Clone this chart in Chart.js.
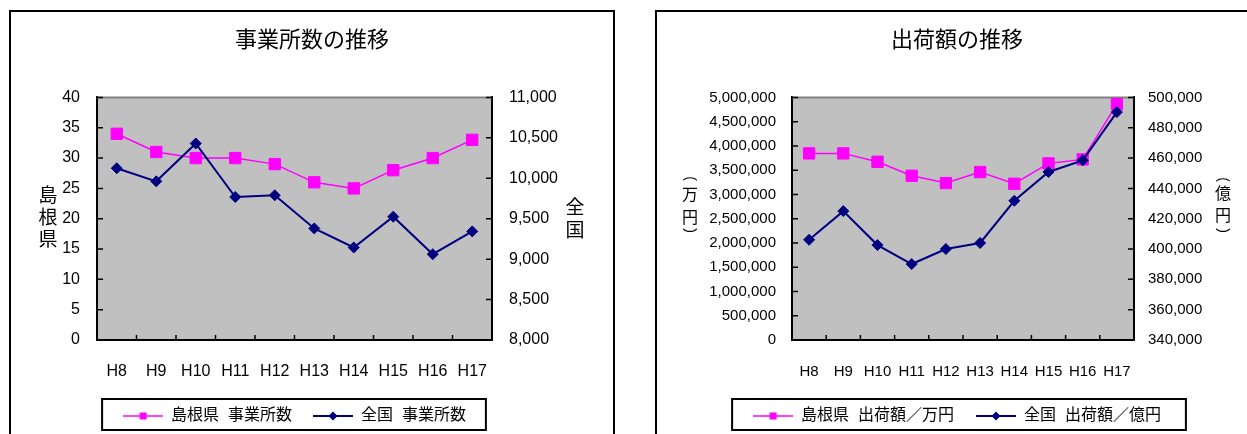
<!DOCTYPE html>
<html>
<head>
<meta charset="utf-8">
<script src="https://cdn.jsdelivr.net/npm/chart.js@4.4.1/dist/chart.umd.min.js"></script>
<style>
  body { margin: 0; background: #fff; width: 1247px; height: 434px; overflow: hidden; position: relative; }
  .box { position: absolute; border: 2px solid #000; box-sizing: border-box; background: #fff; }
  #box1 { left: 9px; top: 10px; width: 606px; height: 440px; }
  #box2 { left: 655px; top: 10px; width: 620px; height: 440px; }
  canvas { position: absolute; left: 0; top: 0; }
</style>
</head>
<body>
<div class="box" id="box1"><canvas id="chartJigyosho" width="602" height="422"></canvas></div>
<div class="box" id="box2"><canvas id="chartShukka" width="600" height="422"></canvas></div>
<script>
// データ
const years = ['H8', 'H9', 'H10', 'H11', 'H12', 'H13', 'H14', 'H15', 'H16', 'H17']
const shimaneJigyosho = [34, 31, 30, 30, 29, 26, 25, 28, 30, 33]
const zenkokuJigyosho = [10124, 9962, 10430, 9768, 9789, 9380, 9144, 9525, 9061, 9343]
const shimaneShukka = [3846000, 3846000, 3673000, 3385000, 3234000, 3461000, 3220000, 3640000, 3722000, 4862000]
const zenkokuShukka = [406100, 425000, 402600, 390100, 400000, 404000, 431800, 450800, 458500, 490300]

const FONT = "'Liberation Sans', 'Noto Sans CJK JP', sans-serif"
const MAGENTA = '#ff00ff'
const NAVY = '#000080'

const fmt = v => Number(v).toLocaleString('en-US')

// 凡例用のマーカー（線＋点）
const legendMark = (color, diamond, lw) => {
    const c = document.createElement('canvas')
    c.width = 40
    c.height = 16
    const g = c.getContext('2d')
    g.strokeStyle = color
    g.lineWidth = lw
    g.beginPath()
    g.moveTo(0, 8)
    g.lineTo(40, 8)
    g.stroke()
    g.fillStyle = color
    if (diamond) {
        g.beginPath()
        g.moveTo(20, 3.5)
        g.lineTo(24.5, 8)
        g.lineTo(20, 12.5)
        g.lineTo(15.5, 8)
        g.closePath()
        g.fill()
    } else {
        g.fillRect(16.5, 4.5, 7, 7)
    }
    return c
}

// 背景・上辺・内向き目盛り・縦書きの軸タイトル・凡例の枠
const plotFrame = {
    id: 'plotFrame',
    beforeDraw(chart) {
        const { ctx, chartArea: a } = chart
        ctx.save()
        ctx.fillStyle = '#c0c0c0'
        ctx.fillRect(a.left, a.top, a.right - a.left, a.bottom - a.top)
        ctx.restore()
    },
    beforeDatasetsDraw(chart) {
        const { ctx, chartArea: a, scales } = chart
        ctx.save()
        ctx.strokeStyle = '#808080'
        ctx.lineWidth = 2
        ctx.beginPath()
        ctx.moveTo(a.left, a.top)
        ctx.lineTo(a.right, a.top)
        ctx.stroke()
        ctx.strokeStyle = '#000'
        ctx.lineWidth = 1.5
        ctx.beginPath()
        scales.y.ticks.forEach(t => {
            const p = scales.y.getPixelForValue(t.value)
            ctx.moveTo(a.left, p)
            ctx.lineTo(a.left + 6, p)
        })
        scales.y2.ticks.forEach(t => {
            const p = scales.y2.getPixelForValue(t.value)
            ctx.moveTo(a.right, p)
            ctx.lineTo(a.right - 6, p)
        })
        for (let i = 0; i < scales.x.ticks.length - 1; i++) {
            const p = scales.x.getPixelForValue(i + 0.5)
            ctx.moveTo(p, a.bottom)
            ctx.lineTo(p, a.bottom - 5)
        }
        ctx.stroke()
        ctx.restore()
    },
    afterDraw(chart) {
        const { ctx } = chart
        const opts = chart.options.plugins.plotFrame
        const a = chart.chartArea
        const mid = (a.top + a.bottom) / 2
        ctx.save()
        ctx.fillStyle = '#000'
        ctx.textAlign = 'center'
        ctx.textBaseline = 'middle'
        opts.titles.forEach(t => {
            t.chars.forEach((ch, i) => {
                if (ch === '(' || ch === ')') {
                    // 縦書きの括弧は横書きの括弧を90度回して描く
                    ctx.save()
                    ctx.font = `${t.size - 2}px ${FONT}`
                    ctx.translate(t.x, mid + t.dy[i])
                    ctx.rotate(Math.PI / 2)
                    ctx.fillText(ch, 0, 0)
                    ctx.restore()
                } else {
                    ctx.font = `${t.size}px ${FONT}`
                    ctx.fillText(ch, t.x, mid + t.dy[i])
                }
            })
        })
        const boxes = chart.legend.legendHitBoxes
        if (boxes && boxes.length) {
            const first = boxes[0]
            const last = boxes[boxes.length - 1]
            const left = first.left - 21
            const right = last.left + last.width + opts.legendRight
            const top = first.top - 9
            const bottom = first.top + first.height + 6
            ctx.strokeStyle = '#000'
            ctx.lineWidth = 2
            ctx.strokeRect(left, top, right - left, bottom - top)
        }
        ctx.restore()
    }
}

const makeChart = (canvasId, cfg) => {
    const marks = [legendMark(MAGENTA, false, 1.5), legendMark(NAVY, true, 2)]
    const axisFont = { family: FONT, size: cfg.tickSize }
    return new Chart(document.getElementById(canvasId).getContext('2d'), {
        type: 'line',
        data: {
            labels: years,
            datasets: [
                {
                    label: cfg.labels[0],
                    data: cfg.series[0],
                    yAxisID: 'y',
                    borderColor: MAGENTA,
                    backgroundColor: MAGENTA,
                    borderWidth: 1.5,
                    pointStyle: 'rect',
                    pointRadius: 8,
                    pointBorderWidth: 1,
                    order: 1,
                    clip: false
                },
                {
                    label: cfg.labels[1],
                    data: cfg.series[1],
                    yAxisID: 'y2',
                    borderColor: NAVY,
                    backgroundColor: NAVY,
                    borderWidth: 2,
                    pointStyle: 'rectRot',
                    pointRadius: 5.5,
                    pointBorderWidth: 1,
                    order: 0,
                    clip: false
                }
            ]
        },
        options: {
            responsive: false,
            animation: false,
            events: [],
            layout: { padding: 0 },
            scales: {
                x: {
                    offset: true,
                    grid: { display: false, drawTicks: false, offset: true },
                    border: { display: true, color: '#000', width: 2 },
                    ticks: { padding: cfg.xPad, font: axisFont, color: '#000', maxRotation: 0, autoSkip: false },
                    afterFit: s => { s.height = cfg.xHeight }
                },
                y: {
                    position: 'left',
                    min: cfg.left.min,
                    max: cfg.left.max,
                    grid: { display: false, drawTicks: false },
                    border: { display: true, color: '#000', width: 2 },
                    ticks: { stepSize: cfg.left.step, padding: cfg.left.pad, font: axisFont, color: '#000', callback: fmt },
                    afterFit: s => { s.width = cfg.left.width }
                },
                y2: {
                    position: 'right',
                    min: cfg.right.min,
                    max: cfg.right.max,
                    grid: { display: false, drawTicks: false },
                    border: { display: true, color: '#000', width: 2 },
                    ticks: { stepSize: cfg.right.step, padding: cfg.right.pad, font: axisFont, color: '#000', callback: fmt },
                    afterFit: s => { s.width = cfg.right.width }
                }
            },
            plugins: {
                title: {
                    display: true,
                    text: cfg.title,
                    color: '#000',
                    font: { family: FONT, size: 22, weight: 'normal' },
                    padding: { top: 16, bottom: 43 }
                },
                legend: {
                    position: 'bottom',
                    fullSize: cfg.legendFull,
                    labels: {
                        usePointStyle: true,
                        pointStyleWidth: 40,
                        padding: cfg.legendPad,
                        color: '#000',
                        font: { family: FONT, size: 16 },
                        generateLabels: chart => chart.data.datasets.map((ds, i) => ({
                            text: ds.label,
                            pointStyle: marks[i],
                            fillStyle: ds.backgroundColor,
                            strokeStyle: ds.borderColor,
                            lineWidth: 0,
                            fontColor: '#000',
                            hidden: false,
                            datasetIndex: i
                        }))
                    }
                },
                tooltip: { enabled: false },
                plotFrame: { titles: cfg.axisTitles, legendRight: cfg.legendRight }
            }
        },
        plugins: [plotFrame]
    })
}

const chartJigyosho = makeChart('chartJigyosho', {
    title: '事業所数の推移',
    labels: ['島根県  事業所数', '全国  事業所数'],
    series: [shimaneJigyosho, zenkokuJigyosho],
    tickSize: 16,
    xPad: 22,
    xHeight: 47,
    legendFull: false,
    legendPad: 21,
    legendRight: 20,
    left: { min: 0, max: 40, step: 5, pad: 17, width: 86 },
    right: { min: 8000, max: 11000, step: 500, pad: 17, width: 121 },
    axisTitles: [
        { chars: ['島', '根', '県'], x: 37, dy: [-22, 0, 22], size: 19 },
        { chars: ['全', '国'], x: 564, dy: [-10, 13], size: 19 }
    ]
})

const chartShukka = makeChart('chartShukka', {
    title: '出荷額の推移',
    labels: ['島根県  出荷額／万円', '全国  出荷額／億円'],
    series: [shimaneShukka, zenkokuShukka],
    tickSize: 15,
    xPad: 23,
    xHeight: 46,
    legendFull: true,
    legendPad: 22,
    legendRight: 25,
    left: { min: 0, max: 5000000, step: 500000, pad: 16, width: 135 },
    right: { min: 340000, max: 500000, step: 20000, pad: 14, width: 123 },
    axisTitles: [
        { chars: ['(', '万', '円', ')'], x: 33, dy: [-40, -23, 0, 12], size: 16 },
        { chars: ['(', '億', '円', ')'], x: 566, dy: [-39, -24, -2, 12], size: 16 }
    ]
})
</script>
</body>
</html>
